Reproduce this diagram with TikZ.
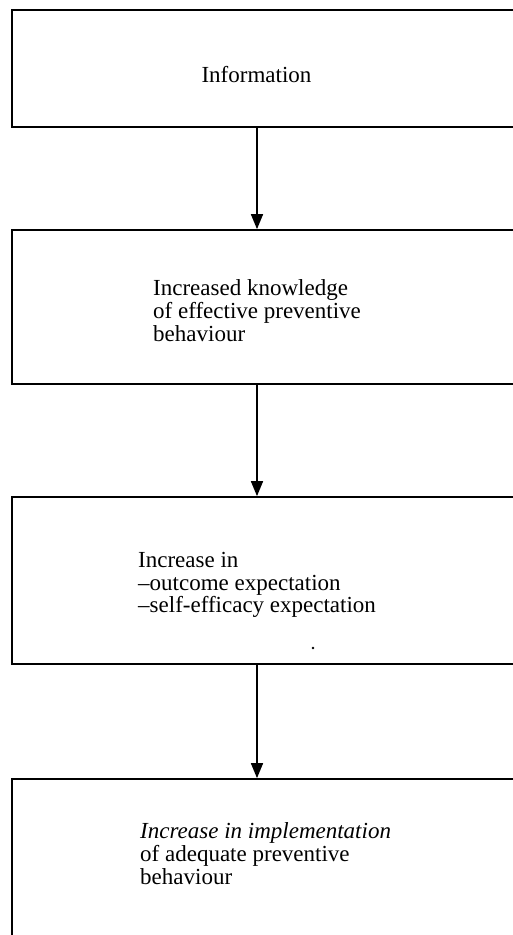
\documentclass[tikz,border=0pt]{standalone}
\usepackage{fontspec}
\setmainfont{Liberation Serif}
\usetikzlibrary{arrows.meta}
\begin{document}
\begin{tikzpicture}[x=1pt,y=-1pt,
  box/.style={draw=black,line width=1.7pt,rectangle,inner sep=0pt},
  txt/.style={anchor=north west,inner sep=0pt,align=left,font=\fontsize{23}{22.8}\selectfont},
  arr/.style={line width=1.6pt,-{Triangle[length=15pt,width=12pt]}}]
\useasboundingbox (0,0) rectangle (513,935);
\clip (0,0) rectangle (513,935);
\fill[white] (0,0) rectangle (513,935);
% boxes
\node[box,minimum width=513pt,minimum height=117pt] (b1) at (268.5,68.5) {};
\node[box,minimum width=513pt,minimum height=154pt] (b2) at (268.5,307) {};
\node[box,minimum width=513pt,minimum height=167pt] (b3) at (268.5,580.5) {};
\node[box,minimum width=513pt,minimum height=171pt] (b4) at (268.5,864.5) {};
% texts
\node[txt,anchor=north] (t1) at (256.5,66.3) {Information};
\node[txt] (t2) at (153,279.4) {Increased knowledge\\of effective preventive\\behaviour};
\node[txt] (t3) at (138,551.8) {Increase in\\–outcome expectation\\–self-efficacy expectation};
\node[txt] (t4) at (140,822.3) {\textit{Increase in implementation}\\of adequate preventive\\behaviour};
\fill (313,648) circle (1.4pt);
% arrows
\coordinate (ax) at (257,0);
\draw[arr] (b1.south -| ax) -- (b2.north -| ax);
\draw[arr] (b2.south -| ax) -- (b3.north -| ax);
\draw[arr] (b3.south -| ax) -- (b4.north -| ax);
\end{tikzpicture}
\end{document}
